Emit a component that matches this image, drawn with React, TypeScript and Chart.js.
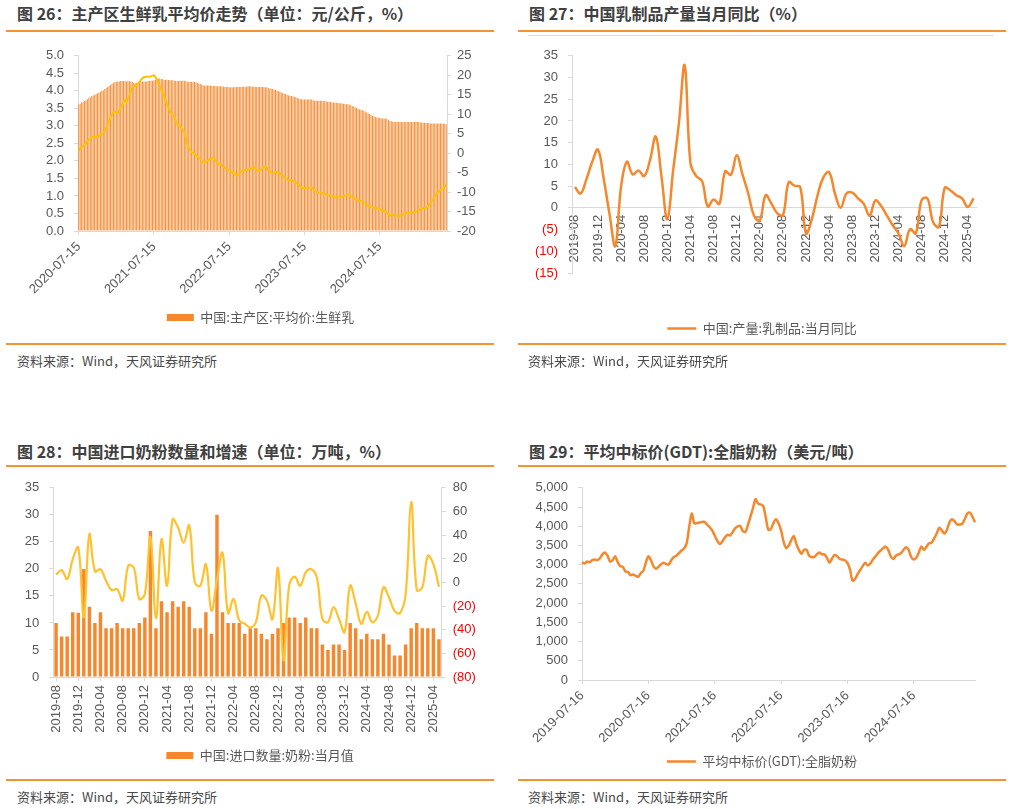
import React, { useEffect, useRef } from 'react';
import { Chart, registerables } from 'chart.js';

Chart.register(...registerables);

const NUM_FONT = "'Liberation Sans', Arial, sans-serif";
const CJK_FONT = "'Noto Sans CJK SC', 'Noto Sans', sans-serif";
const AXIS_GRAY = '#595959';
const LINE_GRAY = '#D9D9D9';
const RED = '#FF0000';
const ORANGE = '#F5872C';
const YELLOW = '#FFC000';
const RULE = '#F59331';

Chart.defaults.font.family = NUM_FONT;
Chart.defaults.font.size = 13;
Chart.defaults.color = AXIS_GRAY;

// ---------- Chart 26: weekly raw milk price (bars) and YoY (line) ----------
const xTicks26 = ['2020-07-15', '2021-07-15', '2022-07-15', '2023-07-15', '2024-07-15'];
const price26 = [
  3.61, 3.64, 3.67, 3.69, 3.71, 3.73, 3.76, 3.80, 3.82, 3.85,
  3.87, 3.89, 3.91, 3.93, 3.95, 3.97, 4.00, 4.02, 4.05, 4.08,
  4.11, 4.14, 4.17, 4.20, 4.23, 4.25, 4.26, 4.27, 4.27, 4.28,
  4.28, 4.28, 4.28, 4.27, 4.28, 4.28, 4.27, 4.25, 4.23, 4.22,
  4.23, 4.24, 4.25, 4.26, 4.27, 4.27, 4.27, 4.27, 4.28, 4.29,
  4.29, 4.29, 4.30, 4.32, 4.34, 4.35, 4.35, 4.34, 4.33, 4.32,
  4.32, 4.32, 4.31, 4.30, 4.30, 4.30, 4.29, 4.29, 4.28, 4.28,
  4.29, 4.29, 4.29, 4.29, 4.28, 4.26, 4.26, 4.25, 4.25, 4.26,
  4.25, 4.24, 4.23, 4.21, 4.20, 4.18, 4.16, 4.15, 4.15, 4.15,
  4.15, 4.15, 4.14, 4.14, 4.14, 4.13, 4.13, 4.13, 4.13, 4.13,
  4.12, 4.12, 4.11, 4.11, 4.10, 4.10, 4.10, 4.10, 4.10, 4.11,
  4.11, 4.11, 4.11, 4.12, 4.12, 4.12, 4.12, 4.13, 4.13, 4.13,
  4.12, 4.12, 4.12, 4.11, 4.11, 4.11, 4.11, 4.11, 4.10, 4.10,
  4.10,
  4.08, 4.07, 4.06, 4.05, 4.04, 4.03, 4.01, 3.99, 3.98, 3.95,
  3.94, 3.92, 3.91, 3.89, 3.87, 3.86, 3.85, 3.84, 3.83, 3.82,
  3.80, 3.78, 3.77, 3.76, 3.75, 3.75, 3.75, 3.75, 3.75, 3.75,
  3.75, 3.73, 3.72, 3.72, 3.72, 3.72, 3.72, 3.72, 3.71, 3.70,
  3.70, 3.69, 3.68, 3.68, 3.67, 3.67, 3.66, 3.66, 3.65, 3.65,
  3.64, 3.64, 3.63, 3.63, 3.62, 3.62, 3.61, 3.59, 3.57, 3.55,
  3.53, 3.51, 3.49, 3.47, 3.46, 3.45, 3.43, 3.41, 3.38, 3.36,
  3.34, 3.32, 3.29, 3.27, 3.25, 3.24, 3.23, 3.23, 3.22, 3.21,
  3.21, 3.20, 3.20, 3.17, 3.14, 3.13, 3.12, 3.11, 3.11, 3.11,
  3.11, 3.11, 3.11, 3.11, 3.11, 3.11, 3.11, 3.11, 3.11, 3.11,
  3.11, 3.11, 3.11, 3.11, 3.11, 3.10, 3.10, 3.09, 3.09, 3.08,
  3.08, 3.08, 3.07, 3.07, 3.07, 3.07, 3.07, 3.07, 3.07, 3.07,
  3.07, 3.06, 3.06, 3.05,
];
const yoy26 = [
  0.7, 1.2, 1.6, 1.8, 2.2, 2.6, 3.0, 3.4, 3.8, 4.2,
  4.3, 4.3, 4.2, 4.1, 4.4, 4.7, 5.0, 5.2, 5.5, 6.4,
  7.2, 8.3, 9.3, 10.0, 10.5, 10.6, 10.4, 10.3, 10.9, 11.6,
  12.2, 13.1, 13.6, 13.1, 14.0, 14.8, 15.8, 16.9, 17.2, 17.3,
  17.6, 17.9, 18.2, 18.8, 19.2, 19.5, 19.6, 19.6, 19.6, 19.6,
  19.7, 19.9, 20.0, 19.6, 18.9, 18.2, 17.4, 16.4, 15.6, 14.6,
  13.6, 12.6, 11.6, 10.7, 10.2, 9.9, 9.4, 8.4, 7.5, 7.2,
  7.0, 6.5, 6.0, 5.3, 3.8, 2.4, 1.4, 0.7, 0.3, 0.1,
  -0.1, -0.5, -0.8, -1.2, -1.5, -2.0, -2.4, -2.4, -2.2, -2.0,
  -1.7, -1.5, -1.3, -1.3, -1.6, -2.2, -2.6, -2.8, -2.9, -3.2,
  -3.5, -3.8, -4.0, -4.2, -4.4, -4.6, -4.9, -5.2, -5.4, -5.7,
  -5.8, -5.3, -4.8, -4.6, -4.4, -4.3, -4.3, -4.3, -4.1, -4.0,
  -3.8, -3.6, -3.7, -4.3, -4.6, -4.4, -4.2, -3.8, -3.5, -3.6,
  -3.7,
  -4.5, -4.7, -4.9, -5.0, -4.9, -4.8, -4.9, -5.0, -5.2, -5.6,
  -5.8, -6.2, -6.5, -6.7, -6.9, -6.9, -7.0, -7.1, -7.3, -7.5,
  -7.8, -8.2, -8.5, -8.8, -9.0, -9.0, -8.9, -8.9, -8.9, -8.9,
  -8.8, -9.2, -9.7, -9.9, -10.0, -10.1, -10.1, -10.2, -10.3, -10.5,
  -10.6, -10.8, -10.9, -11.0, -11.1, -11.2, -11.3, -11.3, -11.3, -11.3,
  -11.2, -11.1, -11.0, -10.9, -10.8, -10.6, -10.8, -11.1, -11.3, -11.6,
  -11.7, -11.9, -12.1, -12.2, -12.3, -12.4, -12.7, -12.9, -13.2, -13.5,
  -13.6, -13.8, -13.9, -14.0, -14.0, -14.1, -14.2, -14.4, -14.6, -14.7,
  -14.9, -15.0, -15.3, -15.7, -16.1, -16.0, -15.8, -15.9, -16.0, -16.0,
  -16.1, -16.1, -16.0, -15.8, -15.6, -15.4, -15.3, -15.3, -15.3, -15.3,
  -15.3, -15.2, -15.1, -14.9, -14.6, -14.4, -14.2, -14.1, -14.1, -14.1,
  -13.8, -13.3, -12.8, -12.3, -11.8, -11.2, -10.6, -10.2, -9.8, -9.5,
  -9.3, -9.1, -8.6, -8.0,
];
const weeks26 = price26.map((_, i) => String(i));

// ---------- Monthly categories shared by charts 27 and 28 ----------
function monthLabels(startYear: number, startMonth: number, count: number): string[] {
  const out: string[] = [];
  for (let k = 0; k < count; k++) {
    const m = startMonth - 1 + k;
    const y = startYear + Math.floor(m / 12);
    out.push(`${y}-${String((m % 12) + 1).padStart(2, '0')}`);
  }
  return out;
}
const months = monthLabels(2019, 8, 70);

// ---------- Chart 27: dairy output YoY ----------
const dairyYoy27 = [
  4.8, 3.3, 6.6, 10.6, 13.4,
  6.6, -1.5, -8.8, 5.0, 10.6, 7.7, 8.6, 7.3, 11.0, 16.4, 7.0, -2.6,
  8.6, 19.5, 32.8, 10.3, 7.3, 6.2, 0.3, 1.9, 0.9, 8.4, 7.6, 12.1,
  7.7, 3.3, -1.8, -2.9, 2.9, 1.0, -1.2, -1.7, 5.9, 5.1, 4.8, -5.9,
  -2.6, 2.9, 7.0, 8.2, 3.3, 0.0, 3.3, 3.5, 2.2, 0.9, -1.8, 1.7,
  0.4, -1.8, -4.0, -5.9, -8.8, -4.9, -5.9, 1.8, 2.2, -3.3, -4.4, 4.6,
  4.0, 2.9, 2.2, 0.2, 2.2,
];

// ---------- Chart 28: milk powder imports (bars) and YoY (line) ----------
const importQty28 = [
  10, 7.5, 7.5, 12, 11.9,
  20, 13, 10, 12, 9, 9, 10, 9, 9, 9, 10, 11,
  27, 9, 14, 12, 14, 13, 14, 13, 9, 9, 12, 8,
  30, 12, 10, 10, 10, 8, 9, 9, 8, 7, 8, 9,
  10, 11, 11, 10, 11, 9, 9, 6, 5, 6, 6, 5,
  10, 9, 7, 8, 7, 7, 8, 6, 4, 4, 6, 9,
  10, 9, 9, 9, 7,
];
const importYoy28 = [
  6.5, 10.4, 2.8, 19.6, 29.5,
  -29.5, 40.7, 9.3, 11.2, 1.4, -6.5, -5.6, -15.4, 14, 12.6, -14, -9.8,
  38.5, -30.3, 36.5, -2.8, 53.3, 46.3, 33.7, 48.3, 0, -2.8, 15.4, -23.9,
  2, 25, -26, -14, -32, -35, -38, -33.7, -11.2, -15.4, -31, 12,
  -66, -2.8, 4.8, -2.8, 8.4, 11.2, 4.2, -31, -33.7, -21, -31, -42,
  -2.8, -18, -35, -25, -33.7, -28, -4.2, -12.6, -24, -26, -10, 68,
  -6.5, -4.2, 22.5, 15.4, -3.6,
];

// ---------- Chart 29: GDT whole milk powder (per auction) ----------
const xTicks29 = ['2019-07-16', '2020-07-16', '2021-07-16', '2022-07-16', '2023-07-16', '2024-07-16'];
const gdt29 = [
  3065, 3031, 3082, 3065, 3116, 3133, 3116, 3166, 3268, 3318,
  3234, 3082, 3116, 3217, 3065, 2963, 2946, 2828, 2811, 2727,
  2744, 2710, 2685, 2778, 2837, 3048, 3217, 3116, 2963, 2896,
  2946, 3014, 3048, 3014, 3006, 3116, 3200, 3234, 3302, 3369,
  3420, 3555, 3977, 4332, 4079, 4079, 4096, 4113, 4113, 4045,
  3977, 3893, 3758, 3623, 3538, 3606, 3707, 3775, 3758, 3842,
  3944, 3994, 4011, 3876, 3851, 4028, 4248, 4468, 4704, 4586,
  4569, 4527, 4231, 3910, 3927, 4079, 4180, 4079, 3893, 3597,
  3430, 3500, 3640, 3741, 3538, 3386, 3285, 3386, 3386, 3234,
  3200, 3200, 3268, 3318, 3268, 3268, 3175, 3048, 3166, 3251,
  3217, 3149, 3133, 3116, 3048, 2879, 2583, 2626, 2752, 2862,
  2963, 3048, 2980, 3031, 3133, 3217, 3302, 3369, 3428, 3470,
  3386, 3217, 3149, 3234, 3268, 3302, 3386, 3454, 3386, 3200,
  3133, 3183, 3318, 3470, 3386, 3470, 3555, 3572, 3682, 3809,
  3961, 3893, 3809, 3910, 4104, 4180, 4130, 4045, 4045, 4062,
  4189, 4332, 4358, 4248, 4104,
];
const auctions29 = gdt29.map((_, i) => String(i));

// ---------- helpers ----------
const everyN = (n: number) => (scale: any) => {
  scale.ticks = scale.ticks.filter((t: any) => t.value % n === 0);
};
const paren = (v: any) => (Number(v) < 0 ? `(${Math.abs(Number(v))})` : String(v));
const redNeg = (c: any) => (c.tick && c.tick.value < 0 ? RED : AXIS_GRAY);
const numFont = { family: NUM_FONT, size: 13 };
const tickGrid = { drawOnChartArea: false, drawTicks: true, tickLength: 4, color: LINE_GRAY };
const border = { display: true, color: LINE_GRAY, width: 1 };
// an empty axis that only reserves room on the right (keeps the legend centred like the original)
const spacerAxis = (w: number) => ({
  position: 'right', display: true,
  ticks: { display: false }, grid: { display: false, drawTicks: false }, border: { display: false },
  afterFit: (s: any) => { s.width = w; },
});

const legendBox = (padding = 10) => ({
  position: 'bottom' as const,
  labels: {
    boxWidth: 27,
    boxHeight: 7,
    padding,
    color: AXIS_GRAY,
    font: { family: CJK_FONT, size: 13 },
    filter: (item: any, data: any) => data.datasets[item.datasetIndex].type === 'bar',
  },
});
const legendLine = (padding = 10) => ({
  position: 'bottom' as const,
  labels: {
    usePointStyle: true,
    pointStyle: 'line',
    pointStyleWidth: 29,
    boxHeight: 13,
    padding,
    color: AXIS_GRAY,
    font: { family: CJK_FONT, size: 13 },
  },
});
const base = (padding: any) => ({
  animation: false as const,
  responsive: false,
  events: [] as any[],
  layout: { padding },
});

function config26(): any {
  return {
    type: 'bar',
    data: {
      labels: weeks26,
      datasets: [
        { type: 'line', label: '同比', data: yoy26, yAxisID: 'y1', borderColor: YELLOW, borderWidth: 2, pointRadius: 0, tension: 0, order: 0 },
        { type: 'bar', label: '中国:主产区:平均价:生鲜乳', data: price26, yAxisID: 'y', backgroundColor: ORANGE, barPercentage: 0.62, categoryPercentage: 1, order: 1 },
      ],
    },
    options: {
      ...base({ top: 15, left: 0, right: 0, bottom: 0 }),
      plugins: { legend: legendBox(), tooltip: { enabled: false } },
      scales: {
        x: {
          offset: true,
          grid: { ...tickGrid, offset: false },
          border,
          ticks: { autoSkip: false, maxRotation: 45, minRotation: 45, padding: 4, font: numFont, color: AXIS_GRAY, callback: (v: any) => xTicks26[Number(v) / 52] },
          afterBuildTicks: everyN(52),
          afterFit: (s: any) => { s.height = 70; },
        },
        y: {
          position: 'left', min: 0, max: 5,
          ticks: { autoSkip: false, stepSize: 0.5, padding: 10, font: numFont, color: AXIS_GRAY, callback: (v: any) => Number(v).toFixed(1) },
          grid: tickGrid, border,
          afterFit: (s: any) => { s.width = 78; },
        },
        y1: {
          position: 'right', min: -20, max: 25,
          ticks: { autoSkip: false, stepSize: 5, padding: 6, font: numFont, color: AXIS_GRAY },
          grid: tickGrid, border,
          afterFit: (s: any) => { s.width = 74; },
        },
      },
    },
  };
}

function config27(): any {
  return {
    type: 'line',
    data: {
      labels: months,
      datasets: [
        { label: '中国:产量:乳制品:当月同比', data: dairyYoy27, borderColor: ORANGE, backgroundColor: ORANGE, borderWidth: 2.5, pointRadius: 0, tension: 0.4 },
      ],
    },
    options: {
      ...base({ top: 8, left: 22, right: 8, bottom: 0 }),
      plugins: { legend: legendLine(49), tooltip: { enabled: false } },
      scales: {
        x: {
          position: { y: 0 },
          offset: true,
          grid: { drawOnChartArea: false, drawTicks: false, color: LINE_GRAY, offset: false },
          border,
          ticks: { autoSkip: false, maxRotation: 90, minRotation: 90, padding: 7, font: numFont, color: AXIS_GRAY },
          afterBuildTicks: everyN(4),
        },
        y: {
          min: -15, max: 35,
          ticks: { autoSkip: false, stepSize: 5, padding: 10, font: numFont, color: redNeg, callback: paren },
          grid: tickGrid, border,
          afterFit: (s: any) => { s.width = 45; },
        },
        ySpace: spacerAxis(20.5),
      },
    },
  };
}

function config28(): any {
  return {
    type: 'bar',
    data: {
      labels: months,
      datasets: [
        { type: 'line', label: '同比', data: importYoy28, yAxisID: 'y1', borderColor: '#FFC12E', borderWidth: 2.2, pointRadius: 0, tension: 0.4, order: 0 },
        { type: 'bar', label: '中国:进口数量:奶粉:当月值', data: importQty28, yAxisID: 'y', backgroundColor: ORANGE, barPercentage: 0.62, categoryPercentage: 1, order: 1 },
      ],
    },
    options: {
      ...base({ top: 17, left: 0, right: 0, bottom: 0 }),
      plugins: { legend: legendBox(), tooltip: { enabled: false } },
      scales: {
        x: {
          offset: true,
          grid: { ...tickGrid, offset: false },
          border,
          ticks: { autoSkip: false, maxRotation: 90, minRotation: 90, padding: 4, font: numFont, color: AXIS_GRAY },
          afterBuildTicks: everyN(4),
          afterFit: (s: any) => { s.height = 62; },
        },
        y: {
          position: 'left', min: 0, max: 35,
          ticks: { autoSkip: false, stepSize: 5, padding: 10, font: numFont, color: AXIS_GRAY },
          grid: tickGrid, border,
          afterFit: (s: any) => { s.width = 53.3; },
        },
        y1: {
          position: 'right', min: -80, max: 80,
          ticks: { autoSkip: false, stepSize: 20, padding: 7, font: numFont, color: redNeg, callback: paren },
          grid: tickGrid, border,
          afterFit: (s: any) => { s.width = 78.3; },
        },
      },
    },
  };
}

function config29(): any {
  return {
    type: 'line',
    data: {
      labels: auctions29,
      datasets: [
        { label: '平均中标价(GDT):全脂奶粉', data: gdt29, borderColor: ORANGE, backgroundColor: ORANGE, borderWidth: 2.5, pointRadius: 0, tension: 0.3 },
      ],
    },
    options: {
      ...base({ top: 13, left: 22, right: 8, bottom: 0 }),
      plugins: { legend: legendLine(), tooltip: { enabled: false } },
      scales: {
        x: {
          offset: false,
          grid: { ...tickGrid, offset: false },
          border,
          ticks: { autoSkip: false, maxRotation: 45, minRotation: 45, padding: 4, font: numFont, color: AXIS_GRAY, callback: (v: any) => xTicks29[Number(v) / 26] },
          afterBuildTicks: everyN(26),
          afterFit: (s: any) => { s.height = 65; },
        },
        y: {
          min: 0, max: 5000,
          ticks: { autoSkip: false, stepSize: 500, padding: 10, font: numFont, color: AXIS_GRAY, callback: (v: any) => Number(v).toLocaleString('en-US') },
          grid: tickGrid, border,
          afterFit: (s: any) => { s.width = 55; },
        },
        ySpace: spacerAxis(22),
      },
    },
  };
}

type CanvasProps = { left: number; top: number; width: number; height: number; build: () => any };
function ChartCanvas({ left, top, width, height, build }: CanvasProps) {
  const ref = useRef<HTMLCanvasElement | null>(null);
  useEffect(() => {
    if (!ref.current) return;
    const chart = new Chart(ref.current, build());
    return () => chart.destroy();
  }, []);
  return (
    <canvas
      ref={ref}
      width={width}
      height={height}
      style={{ position: 'absolute', left, top, width, height }}
    />
  );
}

const titleStyle = (left: number, top: number): React.CSSProperties => ({
  position: 'absolute', left, top, height: 21, lineHeight: '21px', whiteSpace: 'nowrap',
  fontFamily: CJK_FONT, fontWeight: 700, fontSize: 16, color: '#404040',
});
const sourceStyle = (left: number, top: number): React.CSSProperties => ({
  position: 'absolute', left, top, height: 18, lineHeight: '18px', whiteSpace: 'nowrap',
  fontFamily: CJK_FONT, fontSize: 13, color: '#4A4A4A',
});
const rule = (left: number, top: number, width: number, h = 2, color = RULE): React.CSSProperties => ({
  position: 'absolute', left, top, width, height: h, background: color,
});

export default function App() {
  return (
    <div style={{ position: 'absolute', left: 0, top: 0, width: 1011, height: 809, overflow: 'hidden', background: '#ffffff' }}>
      {/* titles */}
      <div style={titleStyle(17, 3)}>图 26：主产区生鲜乳平均价走势（单位：元/公斤，%）</div>
      <div style={titleStyle(529, 3)}>图 27：中国乳制品产量当月同比（%）</div>
      <div style={titleStyle(17, 441)}>图 28：中国进口奶粉数量和增速（单位：万吨，%）</div>
      <div style={titleStyle(529, 441)}>图 29：平均中标价(GDT):全脂奶粉（美元/吨）</div>

      {/* rules */}
      <div style={rule(6, 30, 488)} />
      <div style={rule(518, 30, 488)} />
      <div style={rule(528, 35, 465, 1, LINE_GRAY)} />
      <div style={rule(6, 343, 488)} />
      <div style={rule(518, 343, 488)} />
      <div style={rule(6, 465, 488)} />
      <div style={rule(518, 465, 488)} />
      <div style={rule(6, 779, 488)} />
      <div style={rule(518, 779, 488)} />

      {/* charts */}
      <ChartCanvas left={0} top={38} width={521} height={296} build={config26} />
      <ChartCanvas left={505} top={38} width={500} height={307} build={config27} />
      <ChartCanvas left={0} top={470} width={520} height={302} build={config28} />
      <ChartCanvas left={505} top={470} width={500} height={308} build={config29} />

      {/* sources */}
      <div style={sourceStyle(17, 352)}>资料来源：Wind，天风证券研究所</div>
      <div style={sourceStyle(528, 352)}>资料来源：Wind，天风证券研究所</div>
      <div style={sourceStyle(17, 788)}>资料来源：Wind，天风证券研究所</div>
      <div style={sourceStyle(528, 788)}>资料来源：Wind，天风证券研究所</div>
    </div>
  );
}
